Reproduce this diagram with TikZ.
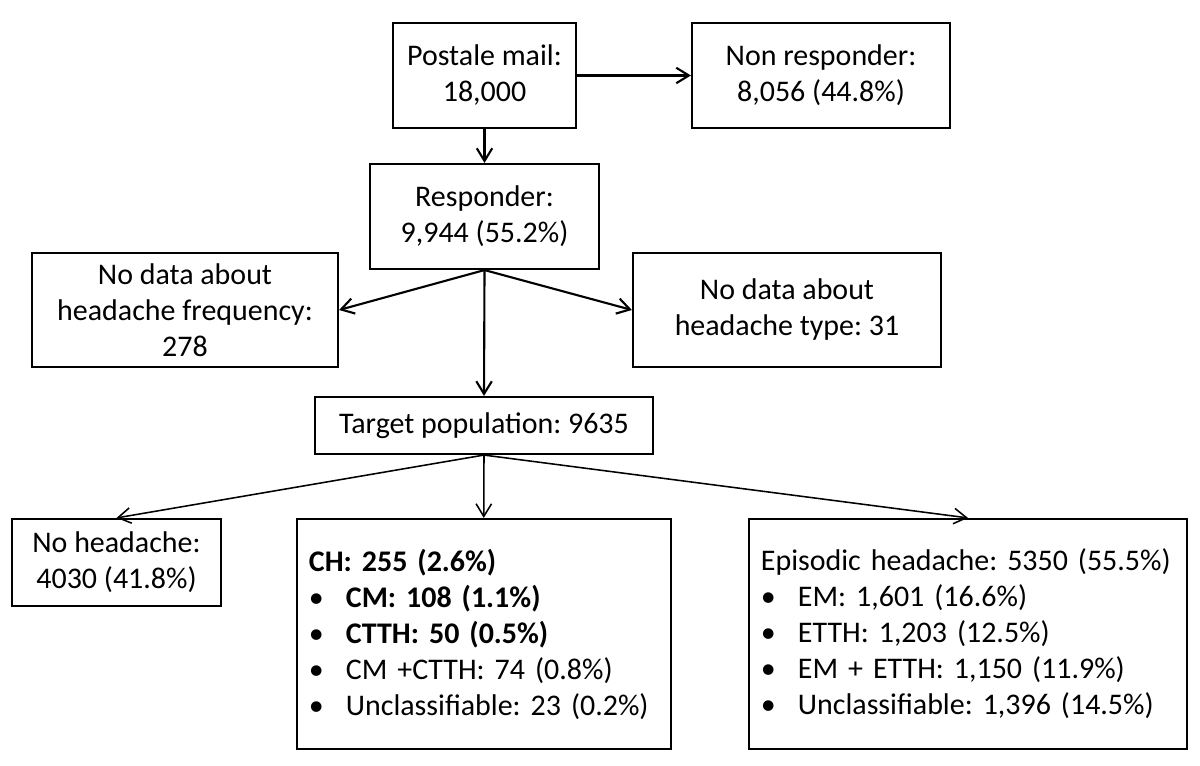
\documentclass[tikz,border=0pt]{standalone}
\usepackage{fontspec}
\setmainfont{Carlito}
\usepackage{tikz}
\usetikzlibrary{arrows.meta}

\newcommand{\bitem}[1]{\makebox[0.925cm][l]{\textbullet}#1}

\begin{document}
\begin{tikzpicture}[->, >={Straight Barb[length=9pt,width=11pt]}, line width=1.5pt,
    x=0.025cm, y=-0.025cm,
    font=\fontsize{21.3}{25.6}\selectfont\frenchspacing,
    box/.style={draw, line width=1.5pt, align=center, inner sep=0pt},
    listbox/.style={draw, line width=1.5pt, align=left, inner xsep=0.3cm, inner ysep=0pt}]
                \useasboundingbox (0,0) rectangle (1200,766);
                \node[box, minimum width=4.575cm, minimum height=2.625cm] (postal) at (484.5,75.5) {Postale mail:\\18,000};
                \node[box, minimum width=6.45cm, minimum height=2.625cm] (nonresp) at (821,75.5) {Non responder:\\8,056 (44.8\%)};
                \node[box, minimum width=5.725cm, minimum height=2.625cm] (resp) at (484.5,216.5) {Responder:\\9,944 (55.2\%)};
                \node[box, minimum width=7.65cm, minimum height=2.85cm] (nodatafreq) at (185,310) {No data about\\headache frequency:\\278};
                \node[box, minimum width=7.7cm, minimum height=2.85cm] (nodatatype) at (787,310) {No data about\\headache type: 31};
                \node[box, minimum width=8.45cm, minimum height=1.425cm] (target) at (484,425.5) {Target population: 9635};
                \node[box, minimum width=5.225cm, minimum height=2.175cm] (noheadache) at (116.5,562.5) {No headache:\\4030 (41.8\%)};
                \node[listbox, text width=8.74cm, minimum height=5.75cm] (chronic) at (483.75,634) {\textbf{CH: 255 (2.6\%)}\\\bitem{\textbf{CM: 108 (1.1\%)}}\\\bitem{\textbf{CTTH: 50 (0.5\%)}}\\\bitem{CM +CTTH: 74 (0.8\%)}\\\bitem{Unclassifiable: 23 (0.2\%)}};
                \node[listbox, text width=10.35cm, minimum height=5.75cm] (episodic) at (968,634) {Episodic headache: 5350 (55.5\%)\\\bitem{EM: 1,601 (16.6\%)}\\\bitem{ETTH: 1,203 (12.5\%)}\\\bitem{EM + ETTH: 1,150 (11.9\%)}\\\bitem{Unclassifiable: 1,396 (14.5\%)}};
                % upper part
                \draw (postal) -- (nonresp);
                \draw (postal) -- (resp);
                \draw (resp.south) -- (nodatafreq.east);
                \draw (resp.south) -- (nodatatype.west);
                \draw (resp.south) -- (target.north);
                % lower part
                \draw[line width=1.1pt] (target.south) -- (noheadache.north);
                \draw[line width=1.1pt] (target.south) -- (chronic.north);
                \draw[line width=1.1pt] (target.south) -- (episodic.north);
            \end{tikzpicture}
\end{document}
